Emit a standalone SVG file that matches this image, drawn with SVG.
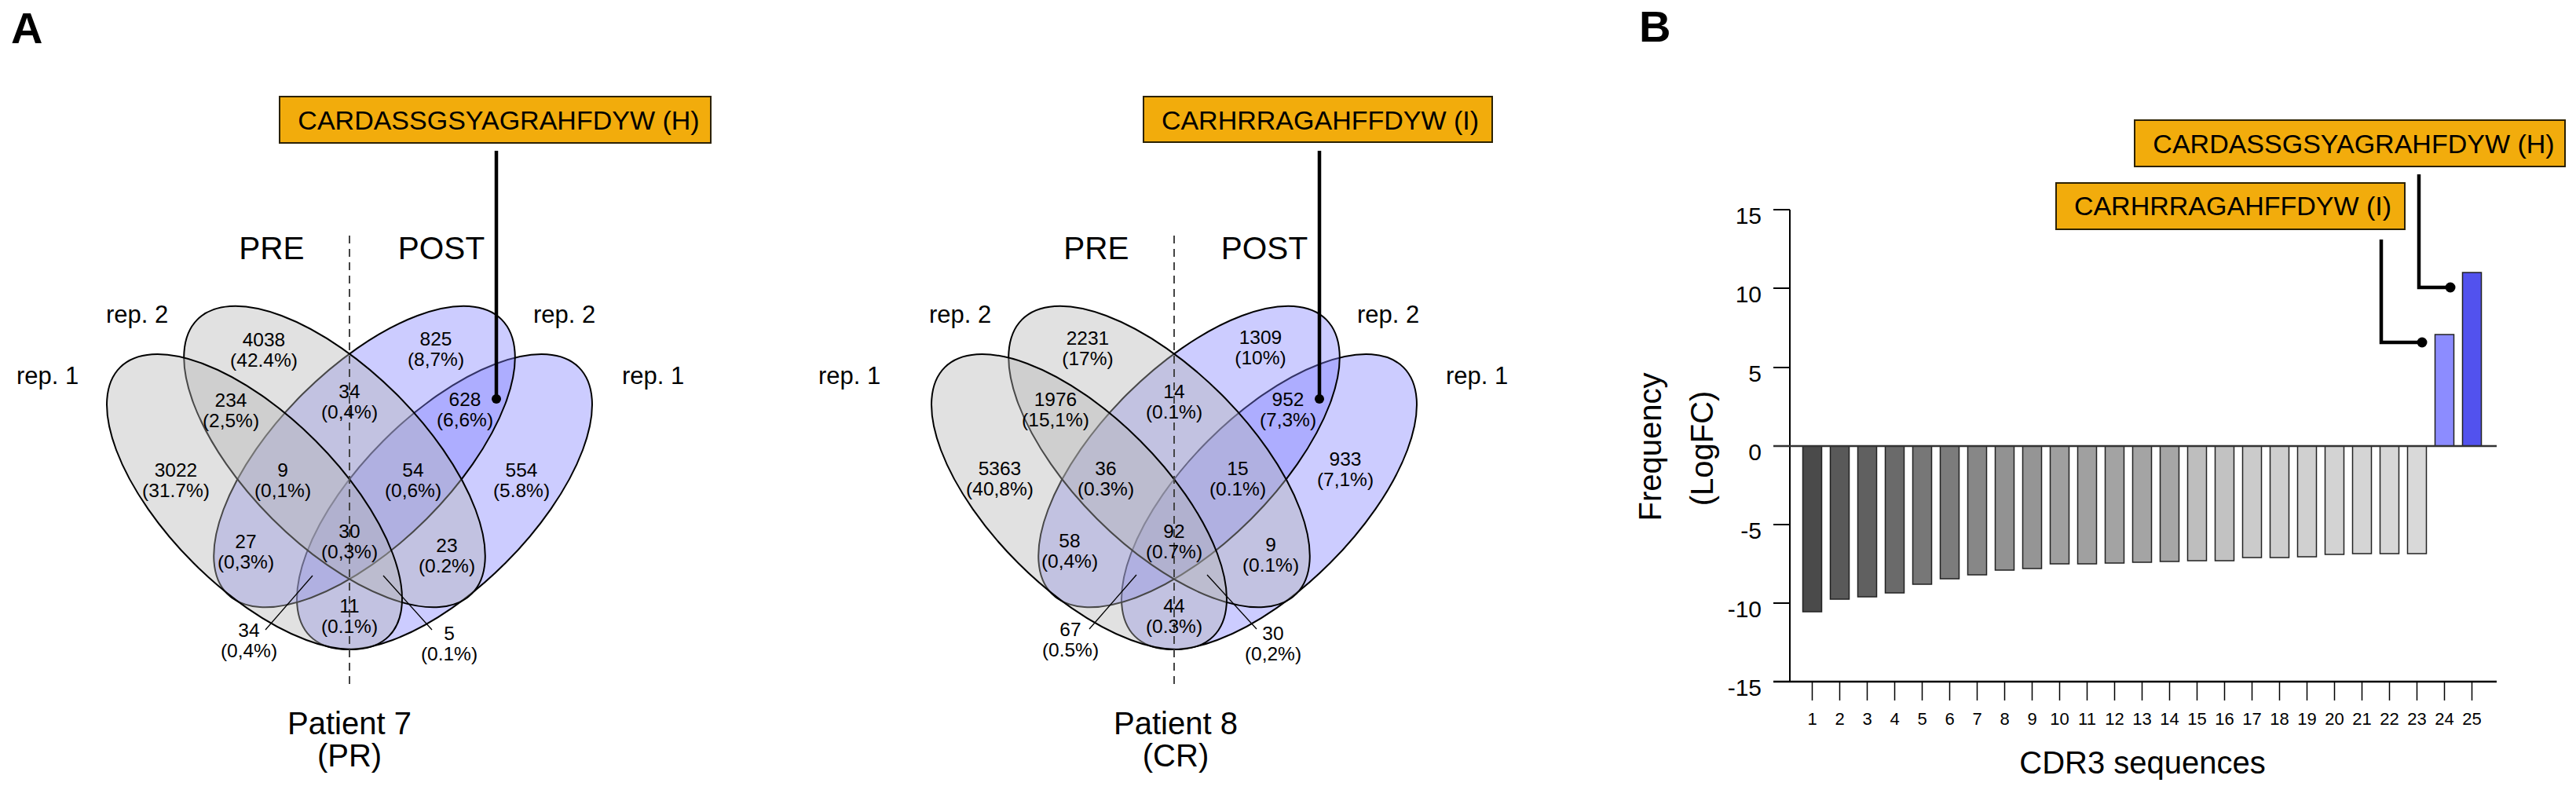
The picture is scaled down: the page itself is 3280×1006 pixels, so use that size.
<svg xmlns="http://www.w3.org/2000/svg" width="3280" height="1006" viewBox="0 0 3280 1006">
<style>
text{font-family:"Liberation Sans",Arial,sans-serif;fill:#000}
.n{font-size:24.5px;text-anchor:middle}
.rep{font-size:31px}
.pp{font-size:40.5px;text-anchor:middle}
.pat{font-size:40px;text-anchor:middle}
.box{fill:#f2ac0c;stroke:#2b2100;stroke-width:2}
.bt{font-size:34px;text-anchor:middle}
.g{fill:#b3b3b3;fill-opacity:0.4;stroke:#000;stroke-width:2}
.b{fill:#8080ff;fill-opacity:0.4;stroke:#000;stroke-width:2}
.dash{stroke:#444;stroke-width:2;stroke-dasharray:10,7;fill:none}
.lead{stroke:#000;stroke-width:1.3;fill:none}
.con{stroke:#000;stroke-width:4.5;fill:none}
.tick{font-size:30px;text-anchor:end}
.xl{font-size:22px;text-anchor:middle}
.ax{stroke:#000;stroke-width:2;fill:none}
.bar{stroke:#222;stroke-width:1.5}
.lab{font-size:56px;font-weight:bold}
</style>

<text class="lab" x="14" y="55">A</text>
<text class="lab" x="2087" y="53">B</text>

<!-- Venn 1 -->
<g id="venn1">
<ellipse class="b" cx="566" cy="639" rx="242" ry="110" transform="rotate(-45 566 639)"/>
<ellipse class="b" cx="464" cy="581.5" rx="247" ry="112" transform="rotate(-45 464 581.5)"/>
<ellipse class="g" cx="426" cy="581.5" rx="247" ry="112" transform="rotate(45 426 581.5)"/>
<ellipse class="g" cx="324" cy="639" rx="242" ry="110" transform="rotate(45 324 639)"/>
<line class="dash" x1="445" y1="300" x2="445" y2="874"/>
<text class="pp" x="346" y="330">PRE</text>
<text class="pp" x="562" y="330">POST</text>
<text class="rep" x="135" y="411">rep. 2</text>
<text class="rep" x="21" y="489">rep. 1</text>
<text class="rep" x="679" y="411">rep. 2</text>
<text class="rep" x="792" y="489">rep. 1</text>
<text class="n" x="336" y="441">4038</text><text class="n" x="336" y="467">(42.4%)</text>
<text class="n" x="294" y="518">234</text><text class="n" x="294" y="544">(2,5%)</text>
<text class="n" x="224" y="607">3022</text><text class="n" x="224" y="633">(31.7%)</text>
<text class="n" x="360" y="607">9</text><text class="n" x="360" y="633">(0,1%)</text>
<text class="n" x="313" y="698">27</text><text class="n" x="313" y="724">(0,3%)</text>
<text class="n" x="317" y="811">34</text><text class="n" x="317" y="837">(0,4%)</text>
<text class="n" x="555" y="440">825</text><text class="n" x="555" y="466">(8,7%)</text>
<text class="n" x="592" y="517">628</text><text class="n" x="592" y="543">(6,6%)</text>
<text class="n" x="526" y="607">54</text><text class="n" x="526" y="633">(0,6%)</text>
<text class="n" x="664" y="607">554</text><text class="n" x="664" y="633">(5.8%)</text>
<text class="n" x="445" y="507">34</text><text class="n" x="445" y="533">(0,4%)</text>
<text class="n" x="445" y="685">30</text><text class="n" x="445" y="711">(0,3%)</text>
<text class="n" x="569" y="703">23</text><text class="n" x="569" y="729">(0.2%)</text>
<text class="n" x="445" y="780">11</text><text class="n" x="445" y="806">(0.1%)</text>
<text class="n" x="572" y="815">5</text><text class="n" x="572" y="841">(0.1%)</text>
<text class="pat" x="445" y="935">Patient 7</text>
<text class="pat" x="445" y="976">(PR)</text>
</g>
<g id="box-h-1">
<rect class="box" x="356" y="123" width="549" height="59"/>
<text class="bt" x="635" y="165">CARDASSGSYAGRAHFDYW (H)</text>
</g>

<!-- Venn 2 -->
<g id="venn2">
<ellipse class="b" cx="1616" cy="639" rx="242" ry="110" transform="rotate(-45 1616 639)"/>
<ellipse class="b" cx="1514" cy="581.5" rx="247" ry="112" transform="rotate(-45 1514 581.5)"/>
<ellipse class="g" cx="1476" cy="581.5" rx="247" ry="112" transform="rotate(45 1476 581.5)"/>
<ellipse class="g" cx="1374" cy="639" rx="242" ry="110" transform="rotate(45 1374 639)"/>
<line class="dash" x1="1495" y1="300" x2="1495" y2="874"/>
<text class="pp" x="1396" y="330">PRE</text>
<text class="pp" x="1610" y="330">POST</text>
<text class="rep" x="1183" y="411">rep. 2</text>
<text class="rep" x="1042" y="489">rep. 1</text>
<text class="rep" x="1728" y="411">rep. 2</text>
<text class="rep" x="1841" y="489">rep. 1</text>
<text class="n" x="1385" y="439">2231</text><text class="n" x="1385" y="465">(17%)</text>
<text class="n" x="1344" y="517">1976</text><text class="n" x="1344" y="543">(15,1%)</text>
<text class="n" x="1273" y="605">5363</text><text class="n" x="1273" y="631">(40,8%)</text>
<text class="n" x="1408" y="605">36</text><text class="n" x="1408" y="631">(0.3%)</text>
<text class="n" x="1362" y="697">58</text><text class="n" x="1362" y="723">(0,4%)</text>
<text class="n" x="1363" y="810">67</text><text class="n" x="1363" y="836">(0.5%)</text>
<text class="n" x="1495" y="507">14</text><text class="n" x="1495" y="533">(0.1%)</text>
<text class="n" x="1495" y="685">92</text><text class="n" x="1495" y="711">(0.7%)</text>
<text class="n" x="1495" y="780">44</text><text class="n" x="1495" y="806">(0.3%)</text>
<text class="n" x="1605" y="438">1309</text><text class="n" x="1605" y="464">(10%)</text>
<text class="n" x="1640" y="517">952</text><text class="n" x="1640" y="543">(7,3%)</text>
<text class="n" x="1576" y="605">15</text><text class="n" x="1576" y="631">(0.1%)</text>
<text class="n" x="1713" y="593">933</text><text class="n" x="1713" y="619">(7,1%)</text>
<text class="n" x="1618" y="702">9</text><text class="n" x="1618" y="728">(0.1%)</text>
<text class="n" x="1621" y="815">30</text><text class="n" x="1621" y="841">(0,2%)</text>
<text class="pat" x="1497" y="935">Patient 8</text>
<text class="pat" x="1497" y="976">(CR)</text>
</g>
<g id="box-i-1">
<rect class="box" x="1456" y="123" width="444" height="58"/>
<text class="bt" x="1681" y="165">CARHRRAGAHFFDYW (I)</text>
</g>

<!-- Bar chart -->
<g id="chart">
<line class="ax" x1="2279" y1="267" x2="2279" y2="868"/>
<g class="ax">
<line x1="2258" y1="267" x2="2279" y2="267"/>
<line x1="2258" y1="367" x2="2279" y2="367"/>
<line x1="2258" y1="468" x2="2279" y2="468"/>
<line x1="2258" y1="668" x2="2279" y2="668"/>
<line x1="2258" y1="768" x2="2279" y2="768"/>
</g>
<text class="tick" x="2243" y="285">15</text>
<text class="tick" x="2243" y="385">10</text>
<text class="tick" x="2243" y="486">5</text>
<text class="tick" x="2243" y="586">0</text>
<text class="tick" x="2243" y="686">-5</text>
<text class="tick" x="2243" y="786">-10</text>
<text class="tick" x="2243" y="886">-15</text>
<text transform="translate(2115,569) rotate(-90)" style="font-size:40px;text-anchor:middle">Frequency</text>
<text transform="translate(2181,571) rotate(-90)" style="font-size:40px;text-anchor:middle">(LogFC)</text>
<g class="bar">
<rect x="2295.5" y="568" width="24" height="211" fill="#4a4a4a"/>
<rect x="2330.5" y="568" width="24" height="195" fill="#595959"/>
<rect x="2365.5" y="568" width="24" height="192" fill="#606060"/>
<rect x="2400.5" y="568" width="24" height="187" fill="#6a6a6a"/>
<rect x="2435.5" y="568" width="24" height="176" fill="#777777"/>
<rect x="2470.5" y="568" width="24" height="169" fill="#7c7c7c"/>
<rect x="2505.5" y="568" width="24" height="164" fill="#878787"/>
<rect x="2540.5" y="568" width="24" height="158" fill="#929292"/>
<rect x="2575.5" y="568" width="24" height="156" fill="#959595"/>
<rect x="2610.5" y="568" width="24" height="150" fill="#9f9f9f"/>
<rect x="2645.5" y="568" width="24" height="150" fill="#a0a0a0"/>
<rect x="2680.5" y="568" width="24" height="149" fill="#a3a3a3"/>
<rect x="2715.5" y="568" width="24" height="148" fill="#a4a4a4"/>
<rect x="2750.5" y="568" width="24" height="147" fill="#a6a6a6"/>
<rect x="2785.5" y="568" width="24" height="146" fill="#bebebe"/>
<rect x="2820.5" y="568" width="24" height="146" fill="#c2c2c2"/>
<rect x="2855.5" y="568" width="24" height="142" fill="#cbcbcb"/>
<rect x="2890.5" y="568" width="24" height="142" fill="#cecece"/>
<rect x="2925.5" y="568" width="24" height="141" fill="#d0d0d0"/>
<rect x="2960.5" y="568" width="24" height="138" fill="#d3d3d3"/>
<rect x="2995.5" y="568" width="24" height="137" fill="#d5d5d5"/>
<rect x="3030.5" y="568" width="24" height="137" fill="#d7d7d7"/>
<rect x="3065.5" y="568" width="24" height="137" fill="#d9d9d9"/>
<rect x="3100.5" y="426" width="24" height="142" fill="#8c8cff"/>
<rect x="3135.5" y="347" width="24" height="221" fill="#5252ee"/>
</g>
<line x1="2258" y1="568" x2="3179" y2="568" stroke="#333" stroke-width="2.5"/>
<line x1="2258" y1="868" x2="3179" y2="868" stroke="#000" stroke-width="2.5"/>
<g stroke="#000" stroke-width="1.5">
<line x1="2307.5" y1="868" x2="2307.5" y2="892"/><line x1="2342.5" y1="868" x2="2342.5" y2="892"/>
<line x1="2377.5" y1="868" x2="2377.5" y2="892"/><line x1="2412.5" y1="868" x2="2412.5" y2="892"/>
<line x1="2447.5" y1="868" x2="2447.5" y2="892"/><line x1="2482.5" y1="868" x2="2482.5" y2="892"/>
<line x1="2517.5" y1="868" x2="2517.5" y2="892"/><line x1="2552.5" y1="868" x2="2552.5" y2="892"/>
<line x1="2587.5" y1="868" x2="2587.5" y2="892"/><line x1="2622.5" y1="868" x2="2622.5" y2="892"/>
<line x1="2657.5" y1="868" x2="2657.5" y2="892"/><line x1="2692.5" y1="868" x2="2692.5" y2="892"/>
<line x1="2727.5" y1="868" x2="2727.5" y2="892"/><line x1="2762.5" y1="868" x2="2762.5" y2="892"/>
<line x1="2797.5" y1="868" x2="2797.5" y2="892"/><line x1="2832.5" y1="868" x2="2832.5" y2="892"/>
<line x1="2867.5" y1="868" x2="2867.5" y2="892"/><line x1="2902.5" y1="868" x2="2902.5" y2="892"/>
<line x1="2937.5" y1="868" x2="2937.5" y2="892"/><line x1="2972.5" y1="868" x2="2972.5" y2="892"/>
<line x1="3007.5" y1="868" x2="3007.5" y2="892"/><line x1="3042.5" y1="868" x2="3042.5" y2="892"/>
<line x1="3077.5" y1="868" x2="3077.5" y2="892"/><line x1="3112.5" y1="868" x2="3112.5" y2="892"/>
<line x1="3147.5" y1="868" x2="3147.5" y2="892"/>
</g>
<text class="xl" x="2307.5" y="923">1</text><text class="xl" x="2342.5" y="923">2</text>
<text class="xl" x="2377.5" y="923">3</text><text class="xl" x="2412.5" y="923">4</text>
<text class="xl" x="2447.5" y="923">5</text><text class="xl" x="2482.5" y="923">6</text>
<text class="xl" x="2517.5" y="923">7</text><text class="xl" x="2552.5" y="923">8</text>
<text class="xl" x="2587.5" y="923">9</text><text class="xl" x="2622.5" y="923">10</text>
<text class="xl" x="2657.5" y="923">11</text><text class="xl" x="2692.5" y="923">12</text>
<text class="xl" x="2727.5" y="923">13</text><text class="xl" x="2762.5" y="923">14</text>
<text class="xl" x="2797.5" y="923">15</text><text class="xl" x="2832.5" y="923">16</text>
<text class="xl" x="2867.5" y="923">17</text><text class="xl" x="2902.5" y="923">18</text>
<text class="xl" x="2937.5" y="923">19</text><text class="xl" x="2972.5" y="923">20</text>
<text class="xl" x="3007.5" y="923">21</text><text class="xl" x="3042.5" y="923">22</text>
<text class="xl" x="3077.5" y="923">23</text><text class="xl" x="3112.5" y="923">24</text>
<text class="xl" x="3147.5" y="923">25</text>
<text x="2728" y="985" style="font-size:40px;text-anchor:middle">CDR3 sequences</text>
</g>
<g id="box-h-2">
<rect class="box" x="2718" y="153" width="548" height="59"/>
<text class="bt" x="2997" y="195">CARDASSGSYAGRAHFDYW (H)</text>
</g>
<g id="box-i-2">
<rect class="box" x="2618" y="233" width="444" height="59"/>
<text class="bt" x="2843" y="274">CARHRRAGAHFFDYW (I)</text>
</g>

<!-- connectors -->
<g id="connectors">
<path class="con" d="M632,192 V508"/>
<circle cx="632" cy="508" r="6"/>
<path class="con" d="M1680,192 V508"/>
<circle cx="1680" cy="508" r="6"/>
<path class="con" d="M3080,222 V366 H3118"/>
<circle cx="3120" cy="366" r="6.5"/>
<path class="con" d="M3032,305 V436 H3082"/>
<circle cx="3084" cy="436" r="6.5"/>
<path class="lead" d="M398,733 L338,802"/>
<path class="lead" d="M488,733 L550,802"/>
<path class="lead" d="M1447,732 L1387,801"/>
<path class="lead" d="M1537,732 L1600,801"/>
</g>
</svg>
